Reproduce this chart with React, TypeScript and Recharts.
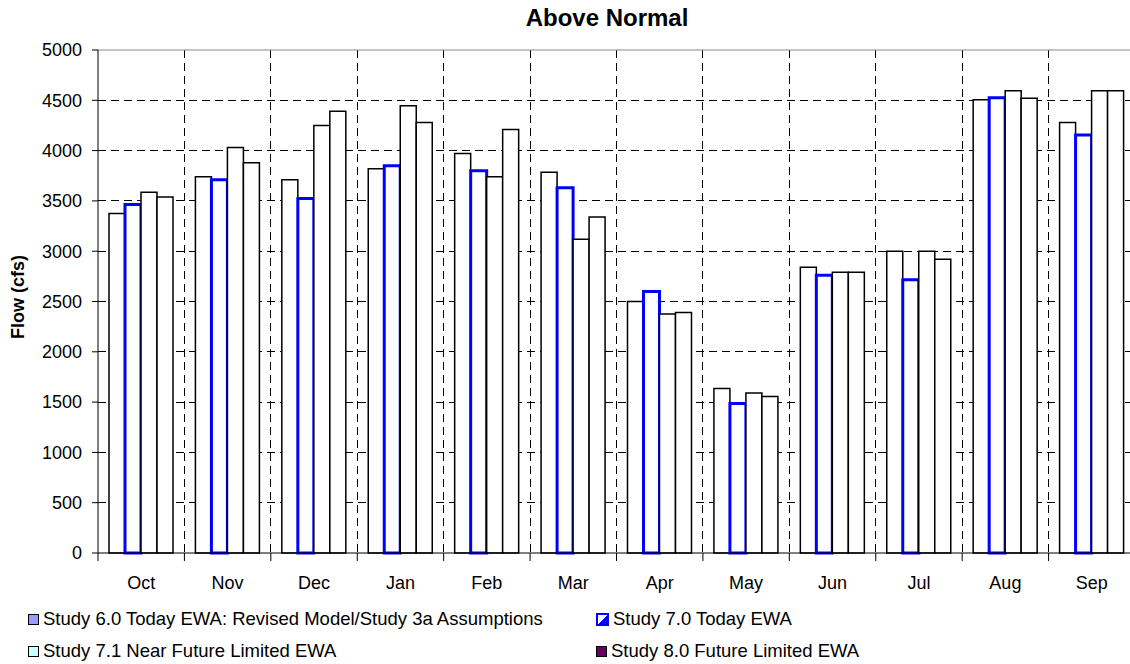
import React from 'react';
import { BarChart, Bar, XAxis, YAxis, CartesianGrid, ReferenceLine } from 'recharts';

const months = ['Oct', 'Nov', 'Dec', 'Jan', 'Feb', 'Mar', 'Apr', 'May', 'Jun', 'Jul', 'Aug', 'Sep'];
const study60 = [3375, 3740, 3710, 3820, 3970, 3785, 2500, 1635, 2840, 3000, 4505, 4280];
const study70 = [3465, 3710, 3525, 3850, 3800, 3630, 2600, 1485, 2760, 2715, 4525, 4155];
const study71 = [3585, 4030, 4250, 4445, 3740, 3120, 2375, 1590, 2790, 3000, 4595, 4595];
const study80 = [3540, 3880, 4390, 4280, 4210, 3340, 2390, 1555, 2790, 2920, 4520, 4595];
const yTicks = [0, 500, 1000, 1500, 2000, 2500, 3000, 3500, 4000, 4500, 5000];

const legendItems = [
  { name: 'Study 6.0 Today EWA: Revised Model/Study 3a Assumptions', swatch: { background: '#9999ff', border: '1px solid #000' } },
  { name: 'Study 7.0 Today EWA', swatch: { background: 'linear-gradient(to bottom right, #fff 50%, #00f 50%)', border: '2px solid #00f' } },
  { name: 'Study 7.1 Near Future Limited EWA', swatch: { background: '#ccffff', border: '1px solid #000' } },
  { name: 'Study 8.0 Future Limited EWA', swatch: { background: '#660066', border: '1px solid #000' } },
];

const FONT = '"Liberation Sans", Arial, sans-serif';
const CHART_W = 1145;
const MARGIN = { top: 50, right: 10, bottom: 0, left: 8 };
const Y_AXIS_W = 90;
const BAND = (CHART_W - MARGIN.left - MARGIN.right - Y_AXIS_W) / months.length;

const data = months.map((month, i) => ({
  month,
  s60: study60[i],
  s70: study70[i],
  s71: study71[i],
  s80: study80[i],
}));

// month label in the middle, tick marks on the category edges
function MonthTick(props: any) {
  const { x, y, payload, index } = props;
  const left = x - BAND / 2;
  return (
    <g>
      <line x1={left} x2={left} y1={y - 8} y2={y} stroke="#000" />
      {index === months.length - 1 && (
        <line x1={left + BAND} x2={left + BAND} y1={y - 8} y2={y} stroke="#000" />
      )}
      <text x={x} y={y + 28} textAnchor="middle" fontSize={18} fontFamily={FONT} fill="#000">
        {payload.value}
      </text>
    </g>
  );
}

export default function App() {
  return (
    <div
      style={{
        position: 'absolute',
        left: 0,
        top: 0,
        width: 1130,
        height: 664,
        overflow: 'hidden',
        background: '#fff',
        fontFamily: FONT,
      }}
    >
      <div
        style={{
          position: 'absolute',
          left: 607,
          top: 4,
          transform: 'translateX(-50%)',
          fontSize: 24,
          fontWeight: 'bold',
          whiteSpace: 'nowrap',
        }}
      >
        Above Normal
      </div>
      <div
        style={{
          position: 'absolute',
          left: 18,
          top: 297,
          transform: 'translate(-50%, -50%) rotate(-90deg)',
          fontSize: 18,
          fontWeight: 'bold',
          whiteSpace: 'nowrap',
        }}
      >
        Flow (cfs)
      </div>

      <BarChart
        width={CHART_W}
        height={600}
        data={data}
        margin={MARGIN}
        barCategoryGap={11}
        barGap={0}
        style={{ position: 'absolute', left: 0, top: 0 }}
      >
        <CartesianGrid
          stroke="#000"
          strokeDasharray="8 5"
          shapeRendering="crispEdges"
          horizontalValues={yTicks.slice(1, -1)}
          verticalCoordinatesGenerator={({ offset }: any) =>
            months.slice(1).map((_, i) => offset.left + ((i + 1) * offset.width) / months.length)
          }
        />
        <ReferenceLine y={5000} stroke="#888" />
        <XAxis
          dataKey="month"
          height={47}
          axisLine={{ stroke: '#000' }}
          tickLine={false}
          tickSize={8}
          tickMargin={0}
          tick={<MonthTick />}
          interval={0}
        />
        <YAxis
          width={Y_AXIS_W}
          domain={[0, 5000]}
          ticks={yTicks}
          axisLine={{ stroke: '#000' }}
          tickLine={{ stroke: '#000' }}
          tickSize={6}
          tickMargin={10}
          tick={{ fill: '#000', fontSize: 18, fontFamily: FONT }}
        />
        <Bar dataKey="s60" fill="#fff" stroke="#000" strokeWidth={1.5} isAnimationActive={false} />
        <Bar dataKey="s70" fill="#fff" stroke="#0000ff" strokeWidth={3} isAnimationActive={false} />
        <Bar dataKey="s71" fill="#fff" stroke="#000" strokeWidth={1.5} isAnimationActive={false} />
        <Bar dataKey="s80" fill="#fff" stroke="#000" strokeWidth={1.5} isAnimationActive={false} />
      </BarChart>

      {legendItems.map((item, i) => (
        <div
          key={item.name}
          style={{
            position: 'absolute',
            left: i % 2 === 0 ? 28 : 596,
            top: i < 2 ? 608 : 640,
            display: 'flex',
            alignItems: 'center',
            fontSize: 18.5,
            whiteSpace: 'nowrap',
          }}
        >
          <span
            style={{
              display: 'inline-block',
              width: 9,
              height: 9,
              marginRight: 4,
              ...item.swatch,
            }}
          />
          {item.name}
        </div>
      ))}
    </div>
  );
}
